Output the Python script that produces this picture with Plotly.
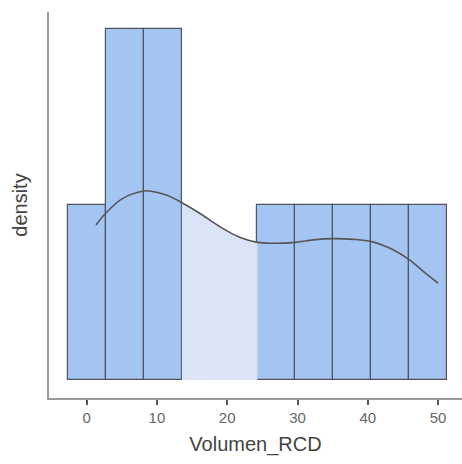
import plotly.graph_objects as go

# Histogram bins (edges) and counts
bin_edges = [-2.71, 2.71, 8.13, 13.55, 18.97, 24.3, 29.7, 35.1, 40.5, 45.85, 51.2]
counts = [1, 2, 2, 0, 0, 1, 1, 1, 1, 1]
n_total = 10

dens_x = [1.34, 2.71, 5.14, 8.13, 8.94, 11.33, 13.55, 16.08, 18.93, 21.78, 24.3,
          26.53, 29.73, 32.24, 35.15, 37.95, 40.57, 43.18, 45.93, 47.93, 50.0]
dens_y_counts = [0.884, 0.951, 1.036, 1.078, 1.078, 1.055, 1.011, 0.951, 0.875, 0.814, 0.785,
                 0.780, 0.785, 0.799, 0.806, 0.802, 0.789, 0.751, 0.685, 0.618, 0.552]

x_ticks = [0, 10, 20, 30, 40, 50]

width = (bin_edges[-1] - bin_edges[0]) / len(counts)
scale = 1.0 / (n_total * width)
centers = [(bin_edges[i] + bin_edges[i + 1]) / 2 for i in range(len(counts))]
widths = [bin_edges[i + 1] - bin_edges[i] for i in range(len(counts))]
dens_bars = [c * scale for c in counts]
dens_y = [v * scale for v in dens_y_counts]

# the density fill is only visible where there are no bars (empty bins)
empty_lo = min(bin_edges[i] for i, c in enumerate(counts) if c == 0)
empty_hi = max(bin_edges[i + 1] for i, c in enumerate(counts) if c == 0)
fill_x = [x for x in dens_x if empty_lo - 1e-9 <= x <= empty_hi + 1e-9]
fill_y = [y for x, y in zip(dens_x, dens_y) if empty_lo - 1e-9 <= x <= empty_hi + 1e-9]

fig = go.Figure()
fig.add_trace(go.Bar(
    x=centers, y=dens_bars, width=widths,
    marker=dict(color="#a4c4f1", line=dict(color="#505560", width=1.2)),
    showlegend=False))
fig.add_trace(go.Scatter(
    x=fill_x, y=fill_y, mode="lines", fill="tozeroy",
    fillcolor="#dae4f6", line=dict(color="rgba(0,0,0,0)", width=0, shape="spline"),
    hoverinfo="skip", showlegend=False))
fig.add_trace(go.Scatter(
    x=dens_x, y=dens_y, mode="lines",
    line=dict(color="#555555", width=1.6, shape="spline"),
    showlegend=False))

fig.update_layout(
    width=462, height=464,
    margin=dict(l=49, r=0, t=12, b=66),
    plot_bgcolor="white", paper_bgcolor="white",
    font=dict(family="Liberation Sans, Arial, sans-serif"),
    bargap=0,
)
fig.update_xaxes(
    range=[-5.35, 53.4], tickvals=x_ticks, ticktext=[str(t) for t in x_ticks],
    showgrid=False, zeroline=False,
    showline=True, linecolor="#9a9a9a", linewidth=2,
    ticks="outside", ticklen=5, tickwidth=2, tickcolor="#555555",
    tickfont=dict(size=15, color="#666666"),
    title=dict(text="Volumen_RCD", font=dict(size=20, color="#444444"), standoff=12),
)
fig.update_yaxes(
    range=[-0.103 * scale, 2.099 * scale],
    showticklabels=False, showgrid=False, zeroline=False,
    showline=True, linecolor="#9a9a9a", linewidth=2, ticks="",
    title=dict(text="density", font=dict(size=20, color="#444444"), standoff=14),
)

fig.write_html("out.html")
